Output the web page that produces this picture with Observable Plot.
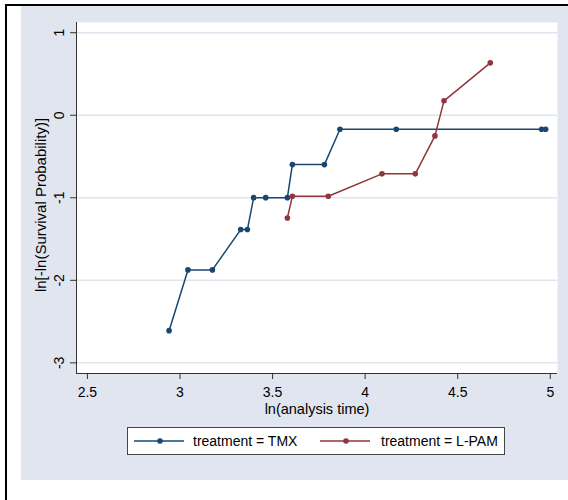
<!DOCTYPE html>
<html><head><meta charset="utf-8">
<script src="https://cdn.jsdelivr.net/npm/d3@7"></script>
<script src="https://cdn.jsdelivr.net/npm/@observablehq/plot@0.6"></script>
<style>
html,body{margin:0;padding:0;background:#fff;overflow:hidden;width:568px;height:500px;}
#frame{position:absolute;left:5px;top:4px;width:620px;height:540px;border-left:2px solid #000;border-top:2px solid #000;}
#region{position:absolute;left:21px;top:6px;width:547px;height:474px;background:#e0e5ef;}
#chart{position:absolute;left:0;top:0;}
#legend{position:absolute;left:106px;top:421px;width:376px;height:26px;border:1px solid #444;background:#fff;font:14px "Liberation Sans",Arial,sans-serif;color:#000;}
#legend .sw{position:absolute;top:0;}
#legend .lb{position:absolute;top:5px;white-space:nowrap;}
</style>
</head><body>
<div id="frame"></div>
<div id="region">
  <div id="chart"></div>
  <div id="legend"></div>
</div>
<script>
// ---- data ----
const tmxX = [2.941, 3.043, 3.175, 3.328, 3.364, 3.398, 3.463, 3.580, 3.607, 3.780, 3.864, 4.168, 4.953, 4.975];
const tmxY = [-2.61, -1.874, -1.874, -1.385, -1.385, -0.998, -0.998, -0.998, -0.598, -0.598, -0.170, -0.170, -0.170, -0.170];
const lpamX = [3.580, 3.607, 3.801, 4.091, 4.271, 4.377, 4.426, 4.676];
const lpamY = [-1.244, -0.982, -0.982, -0.710, -0.710, -0.250, 0.175, 0.635];
const xTicks = [2.5, 3, 3.5, 4, 4.5, 5];
const yTicks = [1, 0, -1, -2, -3];
const seriesNames = ["treatment = TMX", "treatment = L-PAM"];
const seriesColors = ["#1a476f", "#90353b"];
const xTitle = "ln(analysis time)";
const yTitle = "ln[-ln(Survival Probability)]";

const tmx = tmxX.map((x, i) => ({x, y: tmxY[i]}));
const lpam = lpamX.map((x, i) => ({x, y: lpamY[i]}));
const xDomain = [2.441, 5.039];
const yDomain = [-3.129, 1.124];

const chart = Plot.plot({
  width: 547,
  height: 416,
  marginLeft: 55,
  marginRight: 11,
  marginTop: 16,
  marginBottom: 49,
  style: {fontFamily: '"Liberation Sans", Arial, sans-serif', fontSize: "14px", background: "transparent", color: "#000"},
  x: {domain: xDomain},
  y: {domain: yDomain},
  marks: [
    Plot.frame({fill: "#fff", stroke: null}),
    Plot.ruleY(yTicks, {stroke: "#e0e5ef", strokeWidth: 1.5}),
    Plot.ruleX([xDomain[0]], {stroke: "#333", strokeWidth: 1}),
    Plot.ruleY([yDomain[0]], {stroke: "#333", strokeWidth: 1}),
    Plot.axisX({ticks: xTicks, tickSize: 6, tickPadding: 8, tickFormat: d => String(d), label: null, fontSize: 14, stroke: "#333"}),
    Plot.axisY({ticks: yTicks, tickSize: 6, tickFormat: () => "", label: null, stroke: "#333"}),
    Plot.text(yTicks, {frameAnchor: "left", y: d => d, text: d => String(d), rotate: -90, textAnchor: "middle", lineAnchor: "middle", dx: -17, fontSize: 14}),
    Plot.text([yTitle], {frameAnchor: "left", text: d => d, rotate: -90, textAnchor: "middle", lineAnchor: "middle", dx: -35, dy: 7, fontSize: 15}),
    Plot.text([xTitle], {frameAnchor: "bottom", text: d => d, textAnchor: "middle", lineAnchor: "middle", dy: 36, fontSize: 14.5}),
    Plot.line(tmx, {x: "x", y: "y", stroke: seriesColors[0], strokeWidth: 1.5}),
    Plot.dot(tmx, {x: "x", y: "y", r: 2.8, fill: seriesColors[0], stroke: null}),
    Plot.line(lpam, {x: "x", y: "y", stroke: seriesColors[1], strokeWidth: 1.5}),
    Plot.dot(lpam, {x: "x", y: "y", r: 2.8, fill: seriesColors[1], stroke: null})
  ]
});
document.getElementById("chart").appendChild(chart);

// legend
const legend = document.getElementById("legend");
const items = [{sw: 5, lb: 65}, {sw: 191, lb: 253}];
seriesNames.forEach((name, i) => {
  const s = document.createElementNS("http://www.w3.org/2000/svg", "svg");
  s.setAttribute("class", "sw");
  s.setAttribute("width", 52); s.setAttribute("height", 26);
  s.style.left = items[i].sw + "px";
  s.innerHTML = `<line x1="1" x2="51" y1="13" y2="13" stroke="${seriesColors[i]}" stroke-width="1.5"/><circle cx="27" cy="13" r="2.8" fill="${seriesColors[i]}"/>`;
  legend.appendChild(s);
  const t = document.createElement("div");
  t.className = "lb";
  t.style.left = items[i].lb + "px";
  t.textContent = name;
  legend.appendChild(t);
});
</script>
</body></html>
